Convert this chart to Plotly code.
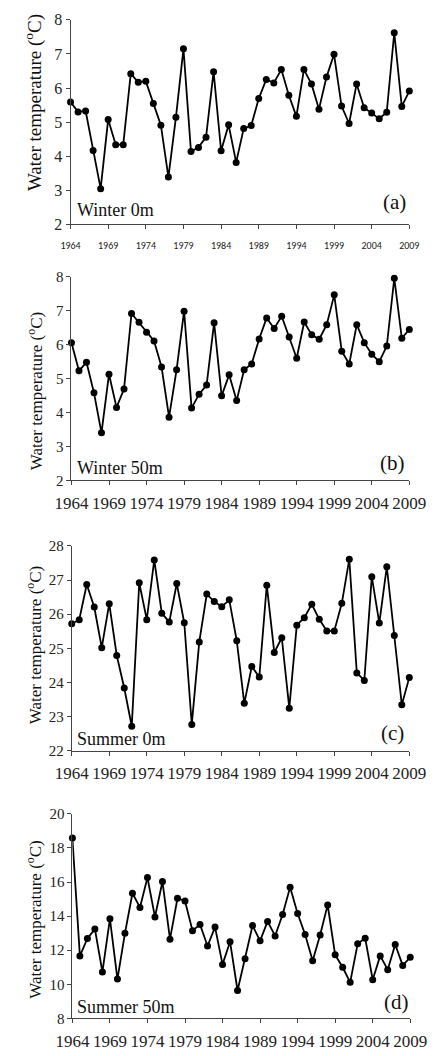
import plotly.graph_objects as go

years = list(range(1964, 2010))

winter_0m = [5.59, 5.30, 5.33, 4.17, 3.05, 5.08, 4.34, 4.34, 6.42, 6.17,
             6.20, 5.55, 4.91, 3.39, 5.14, 7.15, 4.14, 4.26, 4.56, 6.48,
             4.16, 4.92, 3.82, 4.81, 4.90, 5.69, 6.25, 6.15, 6.54, 5.79,
             5.17, 6.54, 6.12, 5.38, 6.32, 6.99, 5.47, 4.96, 6.12, 5.42,
             5.27, 5.10, 5.29, 7.62, 5.46, 5.91]

winter_50m = [6.06, 5.23, 5.48, 4.58, 3.40, 5.13, 4.15, 4.69, 6.92, 6.66,
              6.37, 6.11, 5.34, 3.86, 5.26, 6.99, 4.13, 4.54, 4.81, 6.65,
              4.49, 5.11, 4.35, 5.26, 5.43, 6.17, 6.79, 6.48, 6.84, 6.23,
              5.60, 6.67, 6.29, 6.16, 6.59, 7.47, 5.81, 5.43, 6.59, 6.06,
              5.72, 5.50, 5.96, 7.96, 6.19, 6.45]

summer_0m = [25.72, 25.84, 26.87, 26.21, 25.02, 26.31, 24.79, 23.84, 22.72, 26.92,
             25.84, 27.59, 26.03, 25.77, 26.90, 25.75, 22.77, 25.19, 26.59, 26.37,
             26.22, 26.42, 25.22, 23.39, 24.47, 24.16, 26.85, 24.88, 25.31, 23.25,
             25.68, 25.90, 26.29, 25.85, 25.51, 25.51, 26.32, 27.61, 24.28, 24.06,
             27.10, 25.74, 27.39, 25.38, 23.35, 24.15]

summer_50m = [18.58, 11.67, 12.69, 13.24, 10.73, 13.84, 10.31, 12.99, 15.34, 14.51,
              16.26, 13.95, 16.03, 12.65, 15.05, 14.89, 13.15, 13.51, 12.25, 13.36,
              11.17, 12.50, 9.64, 11.50, 13.45, 12.55, 13.69, 12.84, 14.09, 15.70,
              14.15, 12.92, 11.38, 12.90, 14.66, 11.73, 11.00, 10.12, 12.38, 12.71,
              10.27, 11.67, 10.86, 12.34, 11.11, 11.59]

series = [winter_0m, winter_50m, summer_0m, summer_50m]
season_labels = ["Winter 0m", "Winter 50m", "Summer 0m", "Summer 50m"]
panel_labels = ["(a)", "(b)", "(c)", "(d)"]
y_ranges = [[2, 8], [2, 8], [22, 28], [8, 20]]
y_dticks = [1, 1, 1, 2]
x_ticks = list(range(1964, 2010, 5))
y_title = "Water temperature (<sup>o</sup>C)"

W, H = 442, 1056
def px_x(p):
    return p / W
def px_y(p):
    return 1 - p / H

# pixel geometry of each panel: (left, right, top, bottom)
geom = [(58, 425, 12, 220), (59, 425, 273.3, 480), (59.3, 425, 546.7, 755), (60, 426, 819, 1027)]
season_pos = [(63, 205), (63, 468), (63, 743), (63, 1015)]
panel_pos = [(424, 197), (423, 462), (421, 737), (427, 1010)]
ytitle_pos = [(18, 96), (19, 390), (18, 648), (18, 927)]

serif = "Times New Roman, Liberation Serif, serif"
sans = "Carlito, Liberation Sans, Arial, sans-serif"
fig = go.Figure()
annotations = []
for i in range(4):
    xa = "x" if i == 0 else f"x{i+1}"
    ya = "y" if i == 0 else f"y{i+1}"
    fig.add_trace(go.Scatter(
        x=years, y=series[i], xaxis=xa, yaxis=ya, mode="lines+markers",
        line=dict(color="black", width=1.8),
        marker=dict(color="black", size=7),
        cliponaxis=False, showlegend=False))
    l, r, t, b = geom[i]
    xkey = "xaxis" if i == 0 else f"xaxis{i+1}"
    ykey = "yaxis" if i == 0 else f"yaxis{i+1}"
    if i == 0:
        xfont = dict(family=sans, size=10, color="#222")
        standoff = 8
        yfont = dict(family=serif, size=16, color="#222")
    else:
        xfont = dict(family=serif, size=17, color="#222")
        standoff = 3
        yfont = dict(family=serif, size=15, color="#222")
    fig.layout[xkey] = dict(
        domain=[px_x(l), px_x(r)], anchor=ya, range=[1964, 2009],
        tickvals=x_ticks, ticktext=[str(v) for v in x_ticks],
        ticks="outside", ticklen=4, tickcolor="#444",
        showline=True, linecolor="#444", linewidth=1,
        showgrid=False, zeroline=False, tickfont=xfont,
        ticklabelstandoff=standoff, fixedrange=True)
    fig.layout[ykey] = dict(
        domain=[px_y(b), px_y(t)], anchor=xa, range=y_ranges[i],
        dtick=y_dticks[i], tick0=y_ranges[i][0],
        ticks="outside", ticklen=4, tickcolor="#444",
        showline=True, linecolor="#444", linewidth=1,
        showgrid=False, zeroline=False, tickfont=yfont, fixedrange=True)
    sx, sy = season_pos[i]
    annotations.append(dict(text=season_labels[i], xref="paper", yref="paper",
                            x=px_x(sx), y=px_y(sy), xanchor="left", yanchor="middle",
                            showarrow=False, font=dict(family=serif, size=18, color="#111")))
    lx, ly = panel_pos[i]
    annotations.append(dict(text=panel_labels[i], xref="paper", yref="paper",
                            x=px_x(lx), y=px_y(ly), xanchor="right", yanchor="middle",
                            showarrow=False, font=dict(family=serif, size=21, color="#111")))
    tx, ty = ytitle_pos[i]
    annotations.append(dict(text=y_title, xref="paper", yref="paper",
                            x=px_x(tx), y=px_y(ty), xanchor="center", yanchor="middle",
                            textangle=-90, showarrow=False,
                            font=dict(family=serif, size=19 if i == 0 else 17, color="#111")))

fig.update_layout(width=W, height=H, margin=dict(l=0, r=0, t=0, b=0),
                  paper_bgcolor="white", plot_bgcolor="white",
                  font=dict(family=serif),
                  annotations=annotations)
fig.write_html("out.html")
